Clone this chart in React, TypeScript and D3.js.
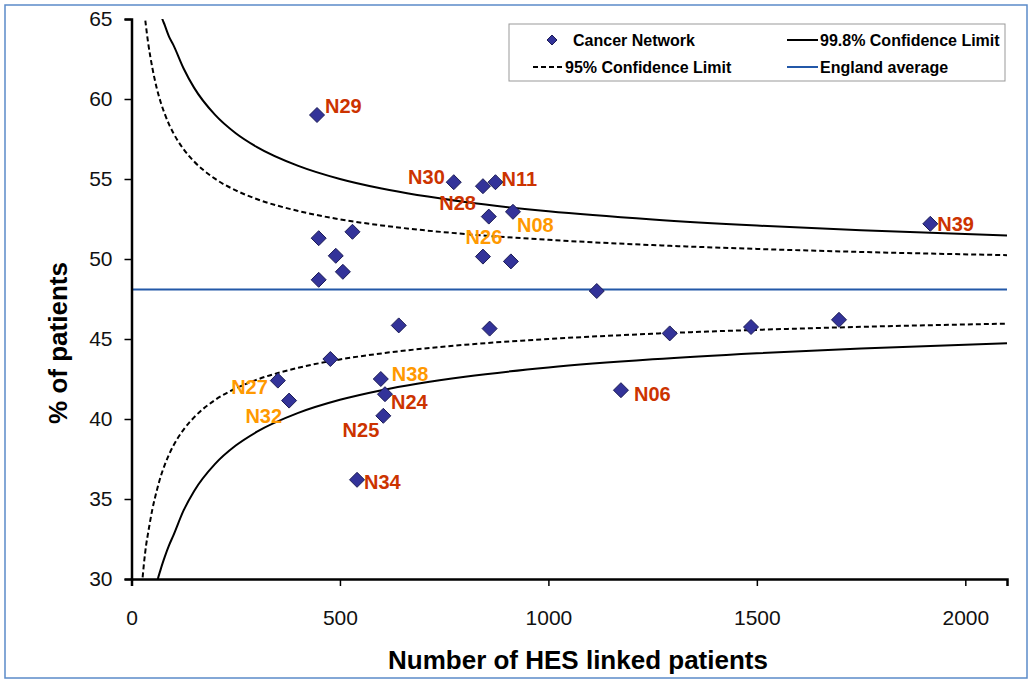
import React, { useEffect, useRef } from "react";
import * as d3 from "d3";

// funnel limits
const limitN = [25, 30, 35, 40, 50, 60, 70, 80, 90, 100, 125, 150, 200, 250, 300, 400, 500, 600, 800, 1000, 1250, 1500, 1750, 2100];
const upper95 = [67.4, 65.7, 64.5, 63.5, 61.95, 60.74, 59.8, 59.05, 58.42, 57.89, 56.86, 56.1, 55.02, 54.29, 53.75, 53.0, 52.48, 52.1, 51.56, 51.2, 50.87, 50.63, 50.44, 50.24];
const lower95 = [29.6, 31.0, 32.1, 32.9, 34.35, 35.46, 36.4, 37.15, 37.78, 38.31, 39.34, 40.1, 41.18, 41.91, 42.45, 43.2, 43.72, 44.1, 44.64, 45.0, 45.33, 45.57, 45.76, 45.96];
const upper998 = [78.98, 76.29, 74.2, 72.51, 69.6, 67.4, 65.4, 64.6, 63.9, 63.4, 61.91, 60.71, 59.02, 57.86, 57.01, 55.82, 55.0, 54.4, 53.56, 52.98, 52.47, 52.09, 51.79, 51.47];
const lower998 = [17.22, 19.91, 22.0, 24.5, 27.5, 29.6, 30.6, 31.4, 32.1, 32.7, 34.29, 35.49, 37.18, 38.34, 39.19, 40.38, 41.2, 41.8, 42.64, 43.22, 43.73, 44.11, 44.41, 44.73];
const englandAverage = 48.1;

// cancer networks
const networkN = [445, 449, 530, 490, 507, 449, 773, 843, 873, 857, 915, 843, 910, 1116, 1291, 1486, 1697, 1174, 1916, 641, 859, 477, 351, 378, 598, 608, 604, 541];
const networkPct = [59.0, 51.3, 51.7, 50.2, 49.2, 48.7, 54.8, 54.55, 54.8, 52.65, 52.95, 50.15, 49.85, 48.0, 45.35, 45.75, 46.2, 41.8, 52.2, 45.85, 45.65, 43.75, 42.4, 41.15, 42.5, 41.55, 40.2, 36.2];
const networkLabel = ["N29", "", "", "", "", "", "N30", "N28", "N11", "", "N08", "N26", "", "", "", "", "", "N06", "N39", "", "", "", "N27", "N32", "N38", "N24", "N25", "N34"];
const outlierHigh = ["N29", "N30", "N28", "N11", "N39", "N06", "N24", "N25", "N34"];

const xTicks = [0, 500, 1000, 1500, 2000];
const yTicks = [30, 35, 40, 45, 50, 55, 60, 65];

// where each label sits next to its diamond
const labelPlace = {
  N29: [8, -9, "start"],
  N30: [-9, -5, "end"],
  N28: [-7, 17, "end"],
  N11: [6, -3, "start"],
  N08: [4, 13, "start"],
  N26: [1, -20, "middle"],
  N06: [13, 4, "start"],
  N39: [7, 0, "start"],
  N27: [-10, 6, "end"],
  N32: [-7, 15, "end"],
  N38: [11, -5, "start"],
  N24: [6, 8, "start"],
  N25: [-4, 14, "end"],
  N34: [7, 2, "start"],
};

const FONT = "'Liberation Sans', Arial, sans-serif";

const App = () => {
  const ref = useRef(null);

  useEffect(() => {
    const svg = d3.select(ref.current);
    svg.selectAll("*").remove();
    const width = 1032;
    const height = 682;
    const margin = { top: 19, right: 25, bottom: 103, left: 131.5 };

    svg.attr("width", width).attr("height", height);

    // outer chart frame
    svg
      .append("rect")
      .attr("x", 5)
      .attr("y", 5)
      .attr("width", 1022)
      .attr("height", 673)
      .attr("fill", "white")
      .attr("stroke", "#5b8bc9")
      .attr("stroke-width", 1.5);

    const x = d3.scaleLinear().domain([0, 2100]).range([margin.left, width - margin.right]);
    const y = d3.scaleLinear().domain([30, 65]).range([height - margin.bottom, margin.top]);

    svg
      .append("clipPath")
      .attr("id", "plot-clip")
      .append("rect")
      .attr("x", x(0))
      .attr("y", y(65))
      .attr("width", x(2100) - x(0))
      .attr("height", y(30) - y(65));

    const line = d3
      .line()
      .x((d) => x(d[0]))
      .y((d) => y(d[1]))
      .curve(d3.curveMonotoneX);

    const curves = svg.append("g").attr("clip-path", "url(#plot-clip)");
    const limits = [
      [upper998, null],
      [lower998, null],
      [upper95, "5,3"],
      [lower95, "5,3"],
    ];
    limits.forEach(([vals, dash]) => {
      curves
        .append("path")
        .datum(limitN.map((n, i) => [n, vals[i]]))
        .attr("fill", "none")
        .attr("stroke", "black")
        .attr("stroke-width", 2)
        .attr("stroke-dasharray", dash)
        .attr("d", line);
    });

    curves
      .append("line")
      .attr("x1", x(0))
      .attr("x2", x(2100))
      .attr("y1", y(englandAverage))
      .attr("y2", y(englandAverage))
      .attr("stroke", "#2358a8")
      .attr("stroke-width", 2);

    // axes
    const xAxis = svg
      .append("g")
      .attr("transform", `translate(0,${y(30)})`)
      .call(d3.axisBottom(x).tickValues(xTicks).tickFormat(d3.format("d")).tickSize(7).tickPadding(24));
    const yAxis = svg
      .append("g")
      .attr("transform", `translate(${x(0)},0)`)
      .call(d3.axisLeft(y).tickValues(yTicks).tickSize(7).tickPadding(12));
    [xAxis, yAxis].forEach((g) => {
      g.select(".domain").attr("stroke", "black").attr("stroke-width", 2.5);
      g.selectAll(".tick line").attr("stroke", "black").attr("stroke-width", 1.5);
      g.selectAll(".tick text")
        .attr("fill", "#111")
        .style("font-size", "21px")
        .style("font-family", FONT);
    });

    // diamonds
    const pts = networkN.map((n, i) => ({ n, v: networkPct[i], name: networkLabel[i] }));
    svg
      .append("g")
      .selectAll("path")
      .data(pts)
      .enter()
      .append("path")
      .attr("d", (d) => {
        const cx = x(d.n);
        const cy = y(d.v);
        return `M${cx},${cy - 7.5}L${cx + 7.5},${cy}L${cx},${cy + 7.5}L${cx - 7.5},${cy}Z`;
      })
      .attr("fill", "#333399")
      .attr("stroke", "#1c1c55")
      .attr("stroke-width", 1);

    svg
      .append("g")
      .selectAll("text")
      .data(pts.filter((d) => d.name))
      .enter()
      .append("text")
      .attr("x", (d) => x(d.n) + labelPlace[d.name][0])
      .attr("y", (d) => y(d.v) + labelPlace[d.name][1])
      .attr("text-anchor", (d) => labelPlace[d.name][2])
      .attr("dominant-baseline", "central")
      .attr("fill", (d) => (outlierHigh.includes(d.name) ? "#cc3300" : "#ff9900"))
      .style("font-size", "20px")
      .style("font-weight", "bold")
      .style("font-family", FONT)
      .text((d) => d.name);

    // axis titles
    svg
      .append("text")
      .attr("transform", "translate(58,343) rotate(-90)")
      .attr("text-anchor", "middle")
      .attr("dominant-baseline", "central")
      .style("font-size", "26px")
      .style("font-weight", "bold")
      .style("font-family", FONT)
      .text("% of patients");

    svg
      .append("text")
      .attr("x", 578)
      .attr("y", 660)
      .attr("text-anchor", "middle")
      .attr("dominant-baseline", "central")
      .style("font-size", "26px")
      .style("font-weight", "bold")
      .style("font-family", FONT)
      .text("Number of HES linked patients");

    // legend
    const legend = svg.append("g");
    legend
      .append("rect")
      .attr("x", 509)
      .attr("y", 24)
      .attr("width", 496)
      .attr("height", 57)
      .attr("fill", "white")
      .attr("stroke", "#999")
      .attr("stroke-width", 1);

    const legendText = (lx, ly, t) =>
      legend
        .append("text")
        .attr("x", lx)
        .attr("y", ly)
        .attr("dominant-baseline", "central")
        .style("font-size", "16px")
        .style("font-weight", "bold")
        .style("font-family", FONT)
        .text(t);
    const legendLine = (x1, ly, color, dash) =>
      legend
        .append("line")
        .attr("x1", x1)
        .attr("x2", x1 + 31)
        .attr("y1", ly)
        .attr("y2", ly)
        .attr("stroke", color)
        .attr("stroke-width", 2)
        .attr("stroke-dasharray", dash);

    legend
      .append("path")
      .attr("d", "M552,35L557,40L552,45L547,40Z")
      .attr("fill", "#333399")
      .attr("stroke", "#1c1c55");
    legendText(573, 40, "Cancer Network");
    legendLine(787, 40, "black", null);
    legendText(820, 40, "99.8% Confidence Limit");
    legendLine(533, 67, "black", "5,3");
    legendText(565, 67, "95% Confidence Limit");
    legendLine(787, 67, "#2358a8", null);
    legendText(820, 67, "England average");
  }, []);

  return (
    <div style={{ position: "absolute", left: 0, top: 0 }}>
      <svg ref={ref} style={{ display: "block" }} />
    </div>
  );
};

export default App;
